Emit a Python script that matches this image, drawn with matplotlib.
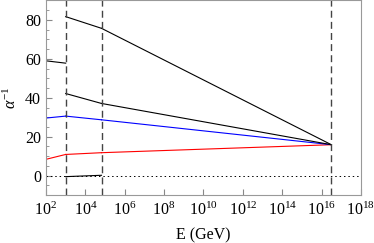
import numpy as np
import matplotlib.pyplot as plt
from matplotlib.ticker import MultipleLocator, FixedLocator

# thresholds (log10 of energy in GeV)
log_e_low = 2.0
log_e_susy = 3.0
log_e_mid = 4.82
log_e_gut = 16.5
alpha_gut = 15.9

# inverse couplings
red_low = [8.4, 10.9]          # at 10^2 and 10^3
red_mid = 11.8                 # at second threshold
blue_low = [29.6, 30.6]
blue_mid = 28.7
black_left = [59.0, 57.8]      # short segment below 10^3
black_top = [81.7, 75.7]       # 10^3 and second threshold
black_middle = [42.2, 37.1]
black_bottom = [-0.5, 0.2]

xticks = [2, 4, 6, 8, 10, 12, 14, 16, 18]
xticklabels = [f"$10^{{{t}}}$" for t in xticks]

plt.rcParams["font.family"] = ["Liberation Serif", "DejaVu Serif"]
plt.rcParams["mathtext.fontset"] = "custom"
plt.rcParams["mathtext.rm"] = "Liberation Serif"
plt.rcParams["mathtext.it"] = "Liberation Serif:italic"

fig = plt.figure(figsize=(3.74, 2.43), dpi=100)
ax = fig.add_axes([0.123, 0.197, 0.842, 0.801])


def loglin(x0, x1):
    return np.array([10 ** x0, 10 ** x1])


# red
ax.plot(loglin(log_e_low, log_e_susy), red_low, color="red", lw=0.8)
ax.plot(loglin(log_e_susy, log_e_mid), [red_low[1], red_mid], color="red", lw=0.8)
ax.plot(loglin(log_e_mid, log_e_gut), [red_mid, alpha_gut], color="red", lw=0.8)

# blue
ax.plot(loglin(log_e_low, log_e_susy), blue_low, color="blue", lw=0.8)
ax.plot(loglin(log_e_susy, log_e_mid), [blue_low[1], blue_mid], color="blue", lw=0.8)
ax.plot(loglin(log_e_mid, log_e_gut), [blue_mid, alpha_gut], color="blue", lw=0.8)

# black
ax.plot(loglin(log_e_low, log_e_susy), black_left, color="black", lw=0.8)
ax.plot(loglin(log_e_susy, log_e_mid), black_top, color="black", lw=0.8)
ax.plot(loglin(log_e_mid, log_e_gut), [black_top[1], alpha_gut], color="black", lw=0.8)
ax.plot(loglin(log_e_susy, log_e_mid), black_middle, color="black", lw=0.8)
ax.plot(loglin(log_e_mid, log_e_gut), [black_middle[1], alpha_gut], color="black", lw=0.8)
ax.plot(loglin(log_e_susy, log_e_mid), black_bottom, color="black", lw=0.8)

ax.axhline(0, color="black", lw=0.7, ls=(0, (1.5, 3)))
for x in [log_e_susy, log_e_mid, log_e_gut]:
    ax.axvline(10 ** x, color="#444444", lw=1.0, ls=(0, (5, 3)))

ax.set_xscale("log")
ax.set_xlim(1e2, 1e18)
ax.set_ylim(-10, 90)
ax.xaxis.set_major_locator(FixedLocator([10.0 ** t for t in xticks]))
ax.xaxis.set_minor_locator(FixedLocator([]))
ax.set_xticklabels(xticklabels)
ax.yaxis.set_major_locator(MultipleLocator(20))
ax.yaxis.set_minor_locator(MultipleLocator(5))

ax.tick_params(which="both", direction="in", labelsize=11.5, color="#888888")
ax.tick_params(which="major", length=4)
ax.tick_params(which="minor", length=2)
ax.tick_params(axis="x", pad=5)
for s in ax.spines.values():
    s.set_color("#999999")

ax.set_xlabel("E (GeV)", fontsize=11.5, labelpad=6)
ax.set_ylabel(r"$\alpha^{-1}$", fontsize=11.5, labelpad=4)

fig.savefig("out.png", dpi=100)
